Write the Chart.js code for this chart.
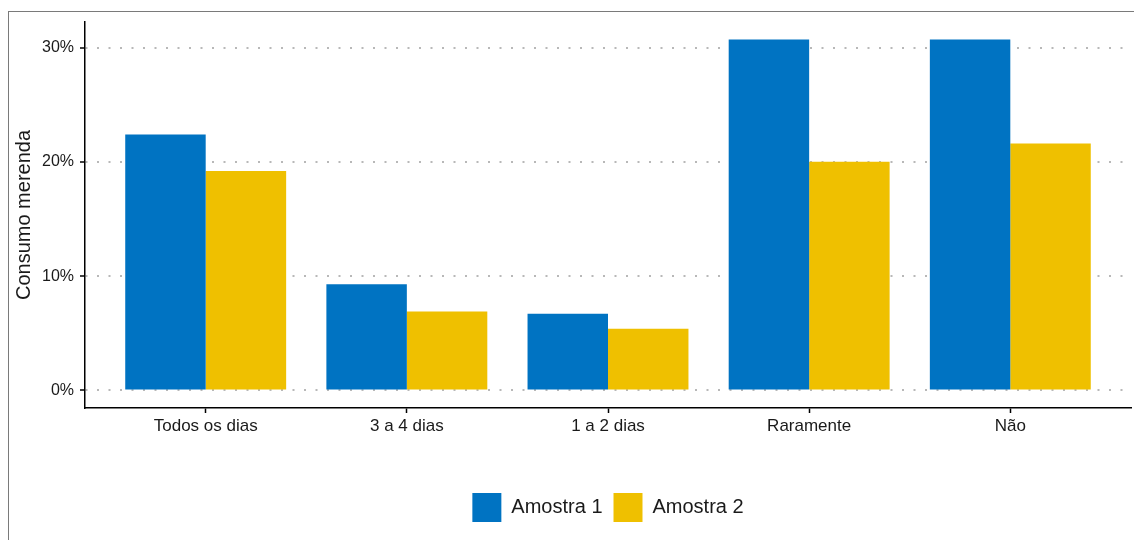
<!DOCTYPE html>
<html>
<head>
<meta charset="utf-8">
<script src="https://cdn.jsdelivr.net/npm/chart.js@4.4.0/dist/chart.umd.min.js"></script>
<style>
  html, body { margin: 0; padding: 0; background: #fff; }
  #wrap { position: relative; width: 1134px; height: 540px; overflow: hidden; }
  #frame {
    position: absolute; left: 8px; top: 11px; width: 1200px; height: 600px;
    border-top: 1px solid #7a7a7a; border-left: 1px solid #7a7a7a;
  }
  #chart { position: absolute; left: 0; top: 0; }
</style>
</head>
<body>
<div id="wrap">
  <div id="frame"></div>
  <canvas id="chart" width="1134" height="540"></canvas>
</div>
<script>
// ---- data ----
const categories = ['Todos os dias', '3 a 4 dias', '1 a 2 dias', 'Raramente', 'Não'];
const amostra1 = [22.4, 9.3, 6.7, 30.7, 30.7];
const amostra2 = [19.2, 6.9, 5.4, 20.0, 21.6];
const yTicks = [0, 10, 20, 30];

const textColor = '#1a1a1a';
const fontFamily = '"Liberation Sans", Arial, sans-serif';

function toPoints(values) {
  return values.map((v, i) => ({ x: i, y: v }));
}

new Chart(document.getElementById('chart'), {
  type: 'bar',
  data: {
    datasets: [
      {
        label: 'Amostra 1',
        data: toPoints(amostra1),
        backgroundColor: '#0073C2',
        borderWidth: 0,
        categoryPercentage: 0.8,
        barPercentage: 1.0
      },
      {
        label: 'Amostra 2',
        data: toPoints(amostra2),
        backgroundColor: '#EFC000',
        borderWidth: 0,
        categoryPercentage: 0.8,
        barPercentage: 1.0
      }
    ]
  },
  options: {
    responsive: false,
    animation: false,
    layout: { padding: { top: 22, right: 3, bottom: 8, left: 0 } },
    plugins: {
      tooltip: { enabled: false },
      legend: {
        position: 'bottom',
        fullSize: false,
        labels: {
          boxWidth: 29,
          boxHeight: 29,
          padding: 11,
          color: textColor,
          font: { family: fontFamily, size: 20 }
        }
      }
    },
    scales: {
      x: {
        type: 'linear',
        min: -0.6,
        max: 4.6,
        offset: false,
        afterBuildTicks: scale => {
          scale.ticks = categories.map((c, i) => ({ value: i }));
        },
        afterFit: scale => { scale.height = 74; },
        ticks: {
          autoSkip: false,
          maxRotation: 0,
          padding: 3,
          color: textColor,
          font: { family: fontFamily, size: 17 },
          callback: v => categories[v]
        },
        grid: {
          offset: false,
          drawOnChartArea: false,
          drawTicks: true,
          tickLength: 5,
          tickColor: '#000',
          tickWidth: 1.5
        },
        border: { display: true, color: '#000', width: 1.5 }
      },
      y: {
        min: -1.535,
        max: 32.235,
        afterBuildTicks: scale => {
          scale.ticks = yTicks.map(v => ({ value: v }));
        },
        afterFit: scale => { scale.width = 85; },
        ticks: {
          padding: 6,
          color: textColor,
          font: { family: fontFamily, size: 16 },
          callback: v => v + '%'
        },
        grid: {
          color: '#b8b8b8',
          lineWidth: 2,
          drawTicks: true,
          tickLength: 5,
          tickColor: '#000',
          tickWidth: 1.5
        },
        border: { display: true, color: '#000', width: 1.5, dash: [2, 9.5] },
        title: {
          display: true,
          text: 'Consumo merenda',
          color: textColor,
          padding: { top: 12, bottom: 0 },
          font: { family: fontFamily, size: 20 }
        }
      }
    }
  }
});
</script>
</body>
</html>
